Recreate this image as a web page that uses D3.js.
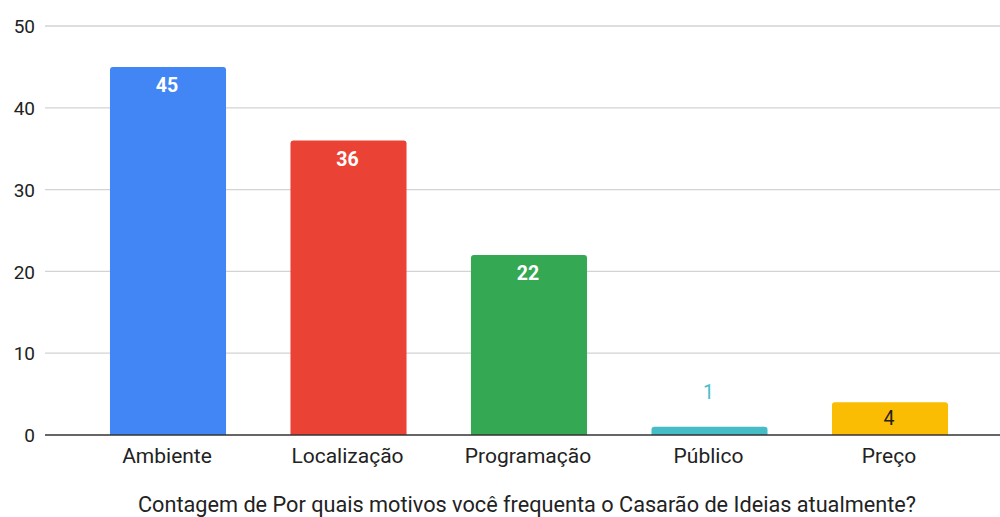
<!DOCTYPE html>
<html lang="pt">
<head>
<meta charset="UTF-8">
<title>Contagem</title>
<script src="https://d3js.org/d3.v7.min.js"></script>
<style>
  body { margin: 0; background: #fff; }
  svg text { font-family: Roboto, Arial, sans-serif; }
</style>
</head>
<body>
<script>
var categories = ["Ambiente", "Localização", "Programação", "Público", "Preço"];
var values = [45, 36, 22, 1, 4];
var colors = ["#4285F4", "#EA4335", "#34A853", "#46BDC6", "#FBBC04"];
var yTicks = [0, 10, 20, 30, 40, 50];
var title = "Contagem de Por quais motivos você frequenta o Casarão de Ideias atualmente?";

var W = 1000, H = 517;
var svg = d3.select("body").append("svg")
  .attr("width", W)
  .attr("height", H);

var x = d3.scaleBand()
  .domain(categories)
  .range([45, 1013])
  .paddingInner(0.357)
  .paddingOuter(0.36);

var y = d3.scaleLinear()
  .domain([0, 50])
  .range([435, 26]);

// gridlines
svg.append("g")
  .selectAll("line")
  .data(yTicks.filter(function(d) { return d > 0; }))
  .enter().append("line")
  .attr("x1", 45).attr("x2", W)
  .attr("y1", function(d) { return y(d); })
  .attr("y2", function(d) { return y(d); })
  .attr("stroke", "#d3d3d3")
  .attr("stroke-width", 1.3);

// y tick labels
var yAxis = svg.append("g")
  .attr("transform", "translate(35,0)")
  .call(d3.axisLeft(y).tickValues(yTicks).tickSize(0).tickPadding(0));
yAxis.select(".domain").remove();
yAxis.selectAll("text")
  .attr("font-size", 19)
  .attr("font-family", "Roboto, Arial, sans-serif")
  .attr("fill", "#222")
  .attr("dy", "0.35em");

// bars with rounded top corners
function barPath(x0, y0, w, h, r) {
  r = Math.min(r, h, w / 2);
  return "M" + x0 + "," + (y0 + h) +
    "V" + (y0 + r) +
    "Q" + x0 + "," + y0 + " " + (x0 + r) + "," + y0 +
    "H" + (x0 + w - r) +
    "Q" + (x0 + w) + "," + y0 + " " + (x0 + w) + "," + (y0 + r) +
    "V" + (y0 + h) + "Z";
}

svg.append("g")
  .selectAll("path")
  .data(values)
  .enter().append("path")
  .attr("d", function(d, i) {
    return barPath(x(categories[i]), y(d), x.bandwidth(), y(0) - y(d), 3);
  })
  .attr("fill", function(d, i) { return colors[i]; });

// baseline
svg.append("line")
  .attr("x1", 45).attr("x2", W)
  .attr("y1", y(0)).attr("y2", y(0))
  .attr("stroke", "#333")
  .attr("stroke-width", 1.3);

// value labels
svg.append("g")
  .selectAll("text")
  .data(values)
  .enter().append("text")
  .attr("x", function(d, i) { return x(categories[i]) + x.bandwidth() / 2 - 1; })
  .attr("y", function(d) {
    var h = y(0) - y(d);
    if (h < 20) return y(d) - 28;
    if (h < 40) return y(d) + 23;
    return y(d) + 25;
  })
  .attr("text-anchor", "middle")
  .attr("font-size", 19.5)
  .attr("font-weight", function(d) { return y(0) - y(d) >= 40 ? "bold" : "normal"; })
  .attr("fill", function(d, i) {
    var h = y(0) - y(d);
    if (h < 20) return colors[i];
    if (h < 40) return "#222";
    return "#fff";
  })
  .text(function(d) { return d; });

// x category labels
svg.append("g")
  .selectAll("text")
  .data(categories)
  .enter().append("text")
  .attr("x", function(d) { return x(d) + x.bandwidth() / 2 - 1; })
  .attr("y", 463)
  .attr("text-anchor", "middle")
  .attr("font-size", 21)
  .attr("fill", "#222")
  .text(function(d) { return d; });

// axis title
svg.append("text")
  .attr("x", 527)
  .attr("y", 512)
  .attr("text-anchor", "middle")
  .attr("font-size", 21.7)
  .attr("fill", "#222")
  .text(title);
</script>
</body>
</html>
